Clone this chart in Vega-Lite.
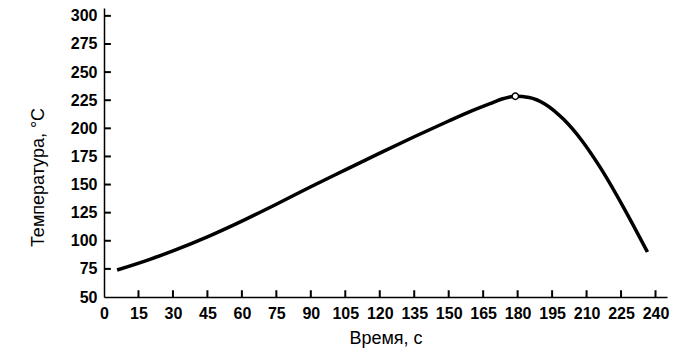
{
  "$schema": "https://vega.github.io/schema/vega-lite/v6.json",
  "width": 563,
  "height": 289,
  "autosize": {"type": "none"},
  "padding": {"left": 104, "top": 8, "right": 11, "bottom": 60},
  "background": "white",
  "config": {
    "view": {"stroke": null},
    "axis": {
      "grid": false,
      "domainColor": "black",
      "domainWidth": 1.5,
      "tickColor": "black",
      "tickWidth": 1.5,
      "labelColor": "black",
      "titleColor": "black",
      "labelFont": "Liberation Sans",
      "labelFontSize": 16,
      "labelFontWeight": "bold",
      "titleFont": "Liberation Sans",
      "titleFontSize": 18,
      "titleFontWeight": "normal"
    }
  },
  "datasets": {
    "curve": [
      {"t": 5.7, "temp": 74},
      {"t": 20, "temp": 83.5},
      {"t": 30, "temp": 91},
      {"t": 45, "temp": 103.5},
      {"t": 60, "temp": 117.5},
      {"t": 75, "temp": 132.5},
      {"t": 90, "temp": 148},
      {"t": 105, "temp": 163},
      {"t": 120, "temp": 178},
      {"t": 135, "temp": 192.5},
      {"t": 150, "temp": 206.5},
      {"t": 160, "temp": 215.5},
      {"t": 168, "temp": 222},
      {"t": 174, "temp": 226.5},
      {"t": 179, "temp": 228.5},
      {"t": 185, "temp": 227.5},
      {"t": 192, "temp": 221.5},
      {"t": 200, "temp": 208},
      {"t": 208, "temp": 189},
      {"t": 216, "temp": 165},
      {"t": 226, "temp": 130},
      {"t": 236.5, "temp": 90}
    ],
    "peak": [{"t": 179, "temp": 228.5}],
    "xticks": [
      {"t": 15, "lo": 50, "hi": 56}, {"t": 30, "lo": 50, "hi": 56}, {"t": 45, "lo": 50, "hi": 56},
      {"t": 60, "lo": 50, "hi": 56}, {"t": 75, "lo": 50, "hi": 56}, {"t": 90, "lo": 50, "hi": 56},
      {"t": 105, "lo": 50, "hi": 56}, {"t": 120, "lo": 50, "hi": 56}, {"t": 135, "lo": 50, "hi": 56},
      {"t": 150, "lo": 50, "hi": 56}, {"t": 165, "lo": 50, "hi": 56}, {"t": 180, "lo": 50, "hi": 56},
      {"t": 195, "lo": 50, "hi": 56}, {"t": 210, "lo": 50, "hi": 56}, {"t": 225, "lo": 50, "hi": 56},
      {"t": 240, "lo": 50, "hi": 56}
    ],
    "yticks": [
      {"temp": 75, "lo": 0, "hi": 3}, {"temp": 100, "lo": 0, "hi": 3}, {"temp": 125, "lo": 0, "hi": 3},
      {"temp": 150, "lo": 0, "hi": 3}, {"temp": 175, "lo": 0, "hi": 3}, {"temp": 200, "lo": 0, "hi": 3},
      {"temp": 225, "lo": 0, "hi": 3}, {"temp": 250, "lo": 0, "hi": 3}, {"temp": 275, "lo": 0, "hi": 3},
      {"temp": 300, "lo": 0, "hi": 3}
    ]
  },
  "layer": [
    {
      "data": {"name": "curve"},
      "mark": {"type": "line", "color": "black", "strokeWidth": 3.5, "interpolate": "monotone"},
      "encoding": {
        "x": {
          "field": "t", "type": "quantitative",
          "scale": {"domain": [0, 245], "nice": false, "zero": false},
          "axis": {
            "title": "Время, с",
            "values": [0, 15, 30, 45, 60, 75, 90, 105, 120, 135, 150, 165, 180, 195, 210, 225, 240],
            "tickCount": 40,
            "labelOverlap": false,
            "ticks": false,
            "labelPadding": 8,
            "titlePadding": 8,
            "labelFlush": false
          }
        },
        "y": {
          "field": "temp", "type": "quantitative",
          "scale": {"domain": [50, 307], "nice": false, "zero": false},
          "axis": {
            "title": "Температура,  °С",
            "values": [50, 75, 100, 125, 150, 175, 200, 225, 250, 275, 300],
            "tickCount": 40,
            "labelOverlap": false,
            "ticks": false,
            "labelPadding": 7,
            "titleX": -57,
            "titleY": 169,
            "labelFlush": false
          }
        }
      }
    },
    {
      "data": {"name": "xticks"},
      "mark": {"type": "rule", "color": "black", "strokeWidth": 2},
      "encoding": {
        "x": {"field": "t", "type": "quantitative"},
        "y": {"field": "lo", "type": "quantitative"},
        "y2": {"field": "hi"}
      }
    },
    {
      "data": {"name": "yticks"},
      "mark": {"type": "rule", "color": "black", "strokeWidth": 2},
      "encoding": {
        "y": {"field": "temp", "type": "quantitative"},
        "x": {"field": "lo", "type": "quantitative"},
        "x2": {"field": "hi"}
      }
    },
    {
      "data": {"name": "peak"},
      "mark": {"type": "point", "shape": "circle", "filled": true, "fill": "white", "stroke": "black", "strokeWidth": 1.5, "size": 40, "opacity": 1},
      "encoding": {
        "x": {"field": "t", "type": "quantitative"},
        "y": {"field": "temp", "type": "quantitative"}
      }
    }
  ]
}
